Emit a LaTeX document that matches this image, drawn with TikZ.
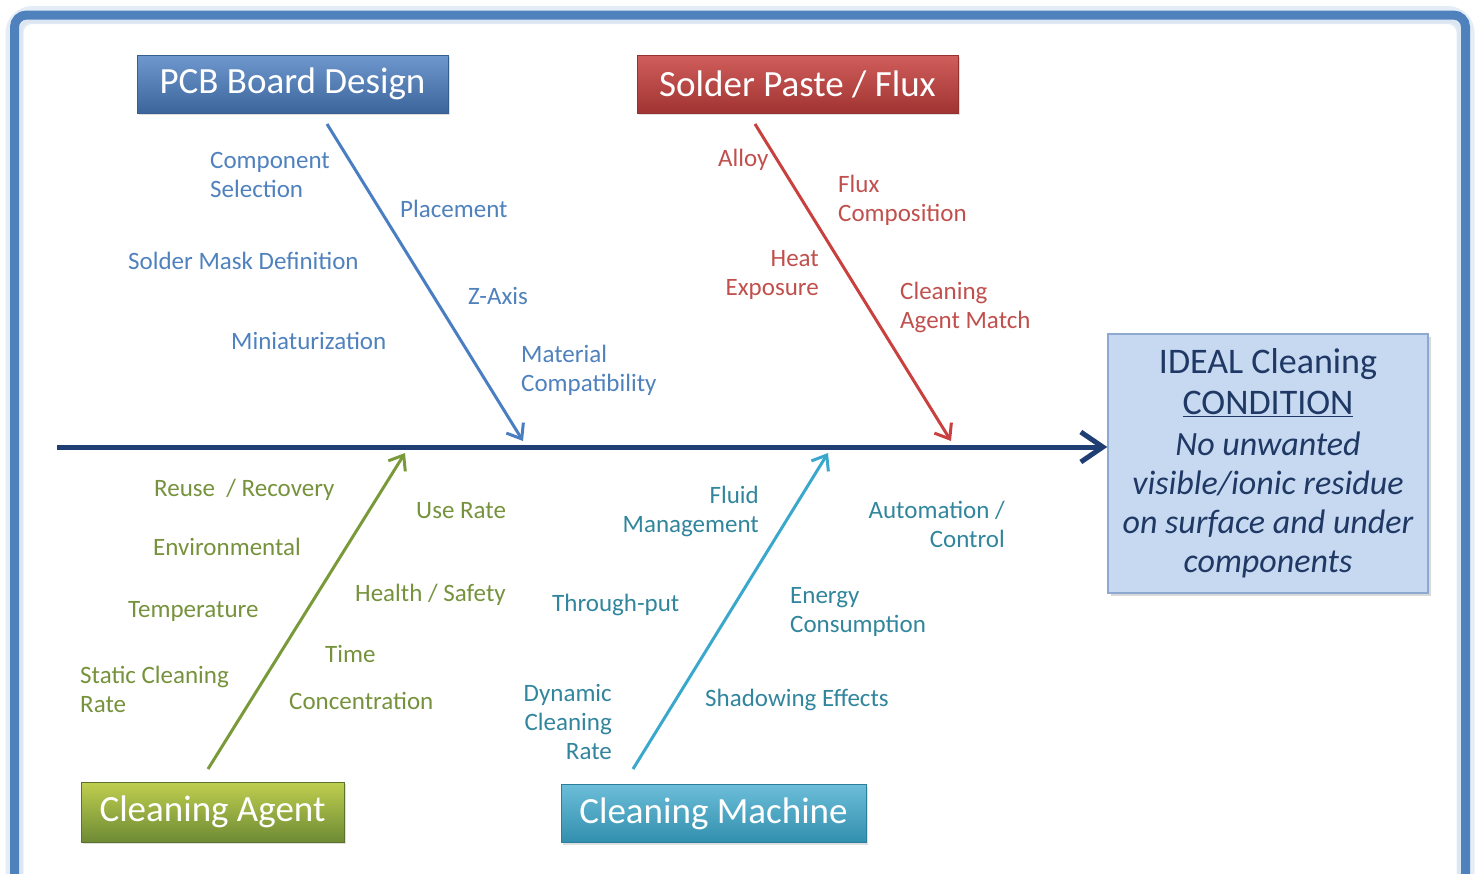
\documentclass[tikz,border=0pt]{standalone}
\usepackage{fontspec}
\setmainfont{Carlito}
\usetikzlibrary{arrows.meta,shadows}

\definecolor{framecol}{HTML}{4F81BD}
\definecolor{spinecol}{HTML}{1F3F74}
\definecolor{pcbcol}{HTML}{4A7EC2}
\definecolor{pastecol}{HTML}{C8413E}
\definecolor{agentcol}{HTML}{7A9A3A}
\definecolor{machcol}{HTML}{3AA8CC}
\definecolor{pcbtext}{HTML}{4F81BD}
\definecolor{pastetext}{HTML}{C0504D}
\definecolor{agenttext}{HTML}{76923C}
\definecolor{machtext}{HTML}{31859C}
\definecolor{goalfill}{HTML}{C6D9F1}
\definecolor{goaldraw}{HTML}{8EA9D0}
\definecolor{goaltext}{HTML}{1F3864}

\tikzset{
  titlebox/.style={draw=#1!75!black, minimum height=58pt, inner sep=0pt,
    text=white, font=\fontsize{37}{40}\selectfont,
    drop shadow={opacity=0.25, shadow xshift=2pt, shadow yshift=-2pt}},
  lbl/.style={inner sep=0pt, font=\fontsize{25}{29}\selectfont},
  bone/.style={line width=3pt, draw=#1, -{Straight Barb[length=13pt,width=20pt]}},
  spine/.style={line width=5pt, draw=spinecol, -{Straight Barb[length=22pt,width=30pt]}},
  goalbox/.style={draw=goaldraw, fill=goalfill, line width=1.5pt, text=goaltext,
    minimum width=320pt, minimum height=259pt, align=center, inner sep=0pt,
    font=\fontsize{36}{39}\selectfont,
    drop shadow={opacity=0.3, shadow xshift=3pt, shadow yshift=-3pt}}
}
\newcommand{\goalit}[1]{{\fontsize{34}{39}\selectfont\itshape #1}}

\begin{document}
\begin{tikzpicture}[x=1pt,y=-1pt]
    \useasboundingbox (0,0) rectangle (1475,873);
    \clip (0,0) rectangle (1475,873);

    % frame
    \draw[line width=18pt, framecol!15, rounded corners=18pt](14.5,15)rectangle(1465.5,910);
    \draw[line width=3pt, framecol!20, rounded corners=8pt](21,21.5)rectangle(1459,910);
    \draw[line width=9pt, framecol, rounded corners=12pt](14.5,15)rectangle(1465.5,910);

    % category boxes
    \node[titlebox=pcbcol, minimum width=311pt, top color=pcbcol!80!white, bottom color=pcbcol!80!black](pcb)at(292.5,84){PCB Board Design};
    \node[titlebox=pastecol, minimum width=321pt, top color=pastecol!85!white, bottom color=pastecol!80!black](paste)at(797.5,84){Solder Paste / Flux};
    \node[titlebox=agentcol, minimum width=263pt, minimum height=60pt, top color=agentcol!60!yellow!80!white, bottom color=agentcol!90!black](agent)at(212.5,812){Cleaning Agent};
    \node[titlebox=machcol, minimum width=305pt, top color=machcol!75!white, bottom color=machcol!85!black](mach)at(713.5,813.5){Cleaning Machine};

    % effect
    \node[goalbox](goal)at(1268,463.5){IDEAL Cleaning\\[2pt]\underline{CONDITION}\\[2pt]
        \goalit{No unwanted}\\\goalit{visible/ionic residue}\\\goalit{on surface and under}\\\goalit{components}};

    % spine
    \coordinate(tail)at(57,447);
    \draw[spine](tail)--(tail -| goal.west);

    % bones
    \coordinate(pcbtop)at(327,124);
    \coordinate(pcbtip)at(523,441);
    \coordinate(pastetop)at(755,124);
    \coordinate(pastetip)at(951,441);
    \coordinate(agentfoot)at(208,769);
    \coordinate(agenttip)at(405,453);
    \coordinate(machfoot)at(633,769);
    \coordinate(machtip)at(828,453);
    \draw[bone=pcbcol](pcbtop)--(pcbtip);
    \draw[bone=pastecol](pastetop)--(pastetip);
    \draw[bone=agentcol](agentfoot)--(agenttip);
    \draw[bone=machcol](machfoot)--(machtip);

    % PCB causes
    \node[lbl, text=pcbtext, right, align=left](compsel)at(210,175){Component\\Selection};
    \node[lbl, text=pcbtext, right](placement)at(400,209){Placement};
    \node[lbl, text=pcbtext, right](soldermask)at(128,261){Solder Mask Definition};
    \node[lbl, text=pcbtext, right](zaxis)at(468,296){Z-Axis};
    \node[lbl, text=pcbtext, right](mini)at(231,341){Miniaturization};
    \node[lbl, text=pcbtext, right, align=left](matcomp)at(521,370){Material\\Compatibility};

    % paste causes
    \node[lbl, text=pastetext, right](alloy)at(718,160){Alloy};
    \node[lbl, text=pastetext, right, align=left](fluxcomp)at(838,200){Flux\\Composition};
    \node[lbl, text=pastetext, left, align=right](heat)at(819,274.5){Heat\\Exposure};
    \node[lbl, text=pastetext, right, align=left](agentmatch)at(900,307.5){Cleaning\\Agent Match};

    % agent causes
    \node[lbl, text=agenttext, right](reuse)at(154,490){Reuse~~/ Recovery};
    \node[lbl, text=agenttext, right](userate)at(416,511){Use Rate};
    \node[lbl, text=agenttext, right](environ)at(153,547){Environmental};
    \node[lbl, text=agenttext, right](health)at(355,595){Health / Safety};
    \node[lbl, text=agenttext, right](temp)at(128,611){Temperature};
    \node[lbl, text=agenttext, right](time)at(325,654){Time};
    \node[lbl, text=agenttext, right, align=left](staticrate)at(80,689.5){Static Cleaning\\Rate};
    \node[lbl, text=agenttext, right](conc)at(289,701){Concentration};

    % machine causes
    \node[lbl, text=machtext, left, align=right](fluid)at(759,511){Fluid\\Management};
    \node[lbl, text=machtext, left, align=right](auto)at(1005,524.5){Automation /\\Control};
    \node[lbl, text=machtext, right](through)at(552,605){Through-put};
    \node[lbl, text=machtext, right, align=left](energy)at(790,612){Energy\\Consumption};
    \node[lbl, text=machtext, left, align=right](dynrate)at(612,722){Dynamic\\Cleaning\\Rate};
    \node[lbl, text=machtext, right](shadow)at(705,699.5){Shadowing Effects};
\end{tikzpicture}
\end{document}
